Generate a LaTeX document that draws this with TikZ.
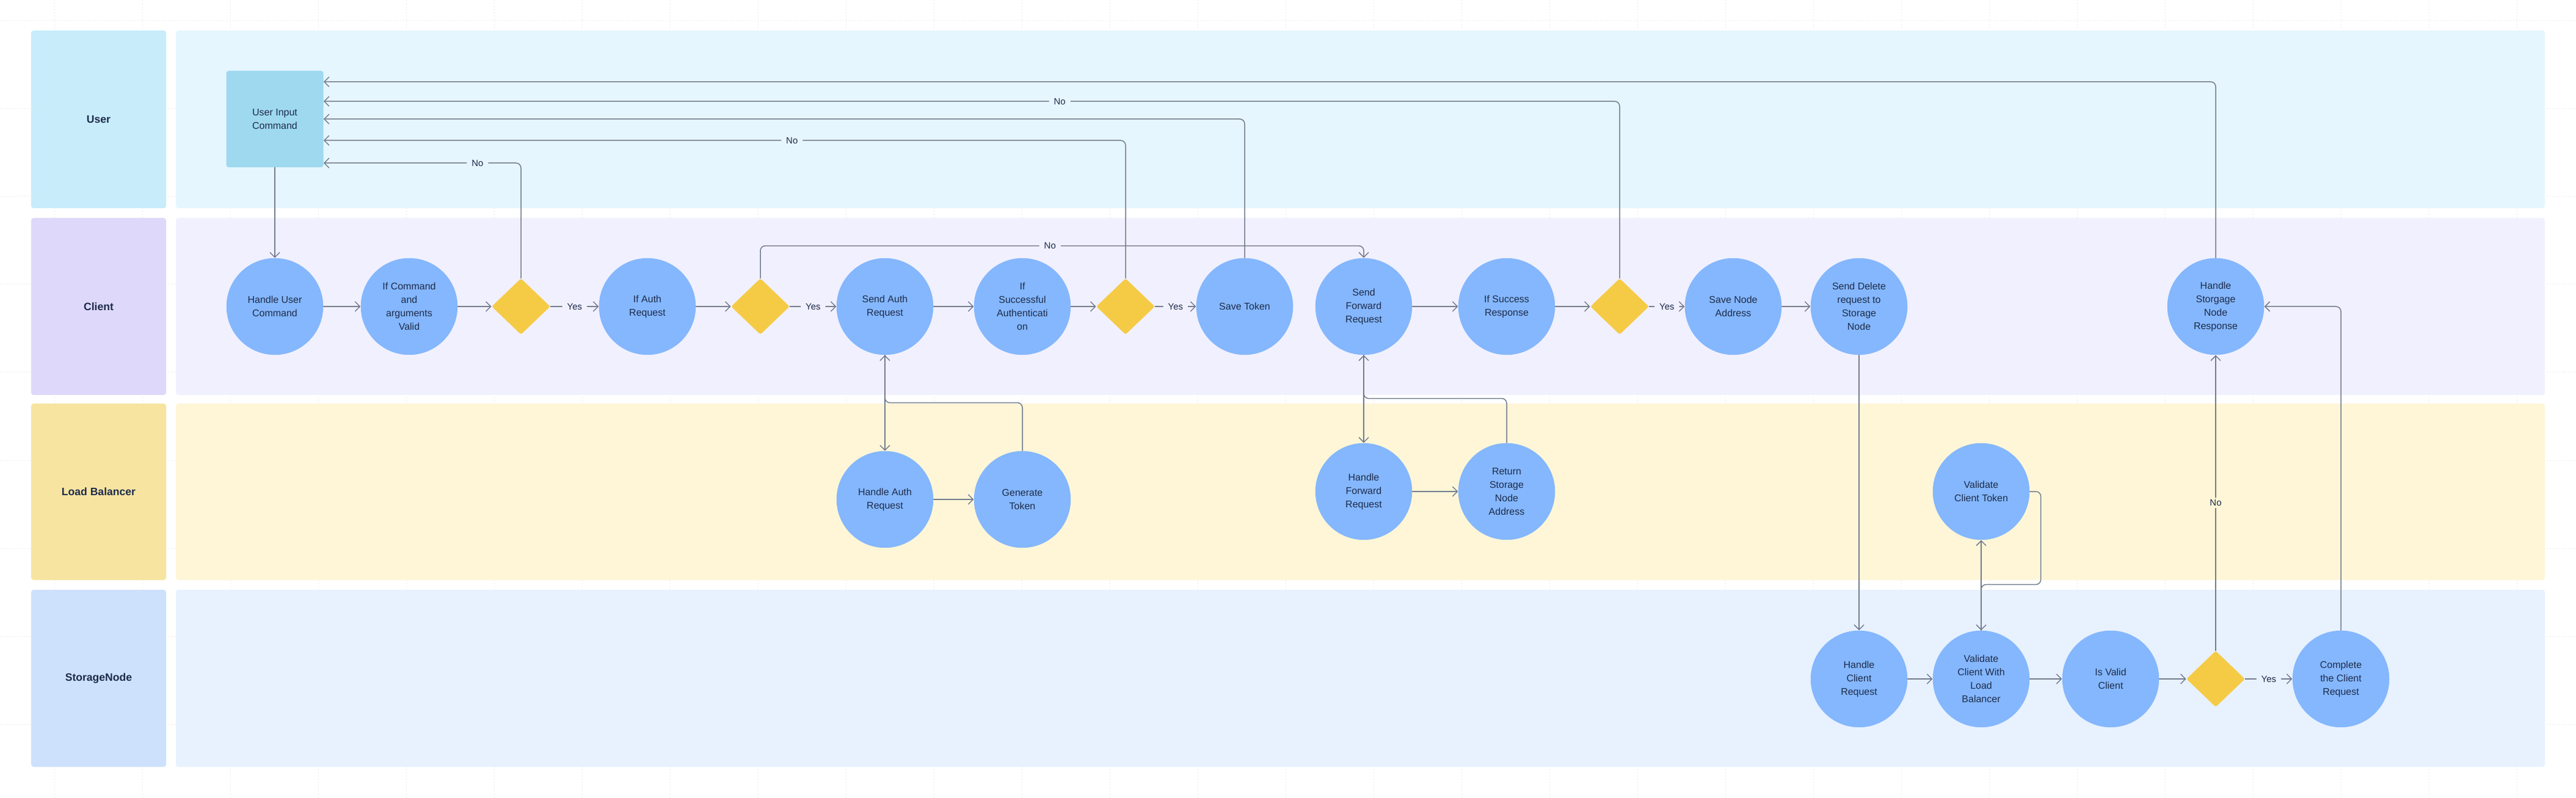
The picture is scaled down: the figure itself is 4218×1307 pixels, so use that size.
\documentclass[tikz,border=0pt]{standalone}
\usepackage{fontspec}
\setmainfont{Liberation Sans}
\usetikzlibrary{shapes.geometric,arrows.meta,calc}
\definecolor{headuser}{HTML}{C8ECFA}
\definecolor{bguser}{HTML}{E6F6FE}
\definecolor{headclient}{HTML}{DED9FA}
\definecolor{bgclient}{HTML}{F1F0FE}
\definecolor{headlb}{HTML}{F7E4A1}
\definecolor{bglb}{HTML}{FEF6D7}
\definecolor{headsn}{HTML}{CDE1FD}
\definecolor{bgsn}{HTML}{E8F1FE}
\definecolor{procfill}{HTML}{84B7FD}
\definecolor{decfill}{HTML}{F5CB46}
\definecolor{boxfill}{HTML}{9ED9EF}
\definecolor{wire}{HTML}{737C8F}
\definecolor{ink}{HTML}{1E2B4D}
\definecolor{gridgray}{HTML}{EBEBEB}
\begin{document}
\begin{tikzpicture}[x=0.2mm,y=-0.2mm,>={Straight Barb[length=1.6mm,width=3.2mm]},line join=round,line cap=round,
	font=\fontsize{9.1}{12.5}\selectfont,
	gridline/.style={draw=gridgray,line width=0.2mm,line cap=butt,dash pattern=on 0.4mm off 0.6mm},
	lanelabel/.style={text=ink,font=\bfseries\fontsize{10}{12}\selectfont},
	proc/.style={circle,fill=procfill,minimum size=31.7mm,inner sep=0,align=center,text=ink},
	inbox/.style={rectangle,fill=boxfill,rounded corners=0.8mm,minimum width=31.8mm,minimum height=31.6mm,inner sep=0,align=center,text=ink},
	decide/.style={diamond,fill=decfill,minimum width=19.2mm,minimum height=18.4mm,inner sep=0,rounded corners=0.6mm},
	flow/.style={draw=wire,line width=0.3mm,->,rounded corners=1.6mm},
	lbl/.style={inner xsep=1.6mm,inner ysep=0.6mm,text=ink,font=\fontsize{8.5}{10}\selectfont}]
	\useasboundingbox (0,0) rectangle (4218,1307);
	\foreach \gx in {89,233,...,4121}\draw[gridline] (\gx,0) -- (\gx,1307);
	\foreach \gy in {34,178,...,1186}\draw[gridline] (0,\gy) -- (4218,\gy);
	\foreach \t/\s/\ya/\yb in {User/user/50/341,Client/client/357/647,Load Balancer/lb/661/950,StorageNode/sn/966/1256}{
		\fill[head\s,rounded corners=0.8mm] (51,\ya) rectangle (272,\yb);
		\fill[bg\s,rounded corners=0.8mm] (288,\ya) rectangle (4167,\yb);
		\node[lanelabel] (lane\s) at (161.5,{(\ya+\yb)/2}) {\t};
	}
	\node[inbox] (uic) at (450,195) {User Input\\Command};
	\foreach \n/\x/\y/\t in {
		huc/450/502/{Handle User\\Command},
		icv/670/502/{If Command\\and\\arguments\\Valid},
		iar/1060/502/{If Auth\\Request},
		sar/1449/502/{Send Auth\\Request},
		isa/1674/502/{If\\Successful\\Authenticati\\on},
		st/2038/502/{Save Token},
		sfr/2233/502/{Send\\Forward\\Request},
		isr/2467/502/{If Success\\Response},
		sna/2838/502/{Save Node\\Address},
		sdr/3044/502/{Send Delete\\request to\\Storage\\Node},
		hsr/3628/502/{Handle\\Storgage\\Node\\Response},
		har/1449/818/{Handle Auth\\Request},
		gt/1674/818/{Generate\\Token},
		hfr/2233/805/{Handle\\Forward\\Request},
		rsa/2467/805/{Return\\Storage\\Node\\Address},
		vct/3244/805/{Validate\\Client Token},
		hcr/3044/1112/{Handle\\Client\\Request},
		vcl/3244/1112/{Validate\\Client With\\Load\\Balancer},
		ivc/3456/1112/{Is Valid\\Client},
		ccr/3833/1112/{Complete\\the Client\\Request}}
		\node[proc] (\n) at (\x,\y) {\t};
	\foreach \n/\x/\y in {d1/853/502,d2/1245/502,d3/1843/502,d4/2652/502,d5/3628/1112}\node[decide] (\n) at (\x,\y) {};
	\draw[flow] (uic) -- (huc);
	\draw[flow] (huc) -- (icv);
	\draw[flow] (icv) -- (d1);
	\draw[flow] (d1) -- node[lbl,fill=bgclient] (yes1) {Yes} (iar);
	\draw[flow] (d1.north) |- node[lbl,fill=bguser,pos=0.61] (no1) {No} ($(uic.east)+(0,72)$);
	\draw[flow] (iar) -- (d2);
	\draw[flow] (d2) -- node[lbl,fill=bgclient] (yes2) {Yes} (sar);
	\draw[flow] (d2.north) -- ++(0,-53) -| node[lbl,fill=bgclient,pos=0.24] (no2) {No} (sfr.north);
	\draw[flow] (sar) -- (isa);
	\draw[flow] (isa) -- (d3);
	\draw[flow] (d3) -- node[lbl,fill=bgclient] (yes3) {Yes} (st);
	\draw[flow] (d3.north) |- node[lbl,fill=bguser,pos=0.708] (no3) {No} ($(uic.east)+(0,35)$);
	\draw[flow] (st.north) |- (uic.east);
	\draw[flow] (sar) -- (har);
	\draw[flow] (har) -- (gt);
	\draw[flow] (gt.north) |- ($(sar.south)+(0,78)$) -- (sar.south);
	\draw[flow] (sfr) -- (isr);
	\draw[flow] (isr) -- (d4);
	\draw[flow] (d4) -- node[lbl,fill=bgclient] (yes4) {Yes} (sna);
	\draw[flow] (d4.north) |- node[lbl,fill=bguser,pos=0.716] (no4) {No} ($(uic.east)+(0,-29)$);
	\draw[flow] (sfr) -- (hfr);
	\draw[flow] (hfr) -- (rsa);
	\draw[flow] (rsa.north) |- ($(sfr.south)+(0,71)$) -- (sfr.south);
	\draw[flow] (sna) -- (sdr);
	\draw[flow] (sdr) -- (hcr);
	\draw[flow] (hcr) -- (vcl);
	\draw[flow] (vcl) -- (vct);
	\draw[flow] (vct.east) -- ++(18,0) |- ($(vcl.north)+(0,-75)$) -- (vcl.north);
	\draw[flow] (vcl) -- (ivc);
	\draw[flow] (ivc) -- (d5);
	\draw[flow] (d5) -- node[lbl,fill=bgsn] (yes5) {Yes} (ccr);
	\draw[flow] (d5) -- node[lbl,fill=bglb] (no5) {No} (hsr);
	\draw[flow] (ccr.north) |- (hsr.east);
	\draw[flow] (hsr.north) |- ($(uic.east)+(0,-61)$);
\end{tikzpicture}
\end{document}
